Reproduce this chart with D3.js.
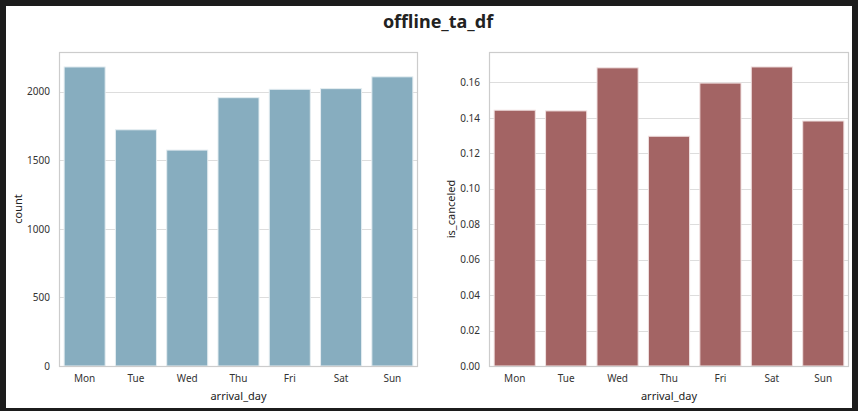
<!DOCTYPE html>
<html>
<head>
<meta charset="utf-8">
<script src="https://cdn.jsdelivr.net/npm/d3@7"></script>
<style>
  body { margin: 0; background: #1c1c1c; }
  text { font-family: "Noto Sans", "Open Sans", sans-serif; }
</style>
</head>
<body>
<div id="chart"></div>
<script>
// data
var days = ["Mon", "Tue", "Wed", "Thu", "Fri", "Sat", "Sun"];
var countValues = [2180, 1722, 1574, 1956, 2017, 2022, 2108];
var canceledValues = [0.1443, 0.1439, 0.1682, 0.1296, 0.1596, 0.1687, 0.1382];
var countTicks = [0, 500, 1000, 1500, 2000];
var canceledTicks = [0, 0.02, 0.04, 0.06, 0.08, 0.10, 0.12, 0.14, 0.16];

var w = 858;
var h = 411;

var svg = d3.select("#chart")
    .append("svg")
    .attr("width", w)
    .attr("height", h);

// dark frame + white figure
svg.append("rect").attr("width", w).attr("height", h).attr("fill", "#1c1c1c");
svg.append("rect")
    .attr("x", 6).attr("y", 6)
    .attr("width", 846).attr("height", 402)
    .attr("fill", "#ffffff");

svg.append("text")
    .attr("x", 438)
    .attr("y", 28)
    .attr("text-anchor", "middle")
    .style("font-size", "18px")
    .attr("font-weight", "bold")
    .attr("fill", "#222")
    .text("offline_ta_df");

function drawPanel(left, right, values, ticks, fmt, ylabel, labelX, color, edge) {
    var top = 52, bottom = 366;

    var xScale = d3.scaleBand()
        .domain(days)
        .range([left, right])
        .paddingInner(0.2)
        .paddingOuter(0.1);

    var yScale = d3.scaleLinear()
        .domain([0, d3.max(values) * 1.05])
        .range([bottom, top]);

    var g = svg.append("g");

    // horizontal grid
    g.selectAll(".grid")
        .data(ticks)
        .enter().append("line")
        .attr("x1", left)
        .attr("x2", right)
        .attr("y1", function(d) { return Math.round(yScale(d)) + 0.5; })
        .attr("y2", function(d) { return Math.round(yScale(d)) + 0.5; })
        .attr("stroke", "#dddddd")
        .attr("stroke-width", 1);

    g.selectAll("rect.bar")
        .data(values)
        .enter().append("rect")
        .attr("class", "bar")
        .attr("x", function(d, i) { return xScale(days[i]); })
        .attr("width", xScale.bandwidth())
        .attr("y", function(d) { return yScale(d); })
        .attr("height", function(d) { return yScale(0) - yScale(d); })
        .attr("fill", color)
        .attr("stroke", edge)
        .attr("stroke-width", 1);

    // spines
    g.append("rect")
        .attr("x", left + 0.5)
        .attr("y", top + 0.5)
        .attr("width", right - left - 1)
        .attr("height", bottom - top)
        .attr("fill", "none")
        .attr("stroke", "#cccccc")
        .attr("stroke-width", 1.2);

    var yAxis = d3.axisLeft(yScale)
        .tickValues(ticks)
        .tickFormat(fmt)
        .tickSize(0)
        .tickPadding(9);

    g.append("g")
        .attr("transform", "translate(" + left + ",0)")
        .call(yAxis)
        .call(function(a) {
            a.select(".domain").remove();
            a.selectAll("text")
                .attr("fill", "#333")
                .style("font-size", "10px")
                .style("font-family", "'Noto Sans', sans-serif");
        });

    var xAxis = d3.axisBottom(xScale)
        .tickSize(0)
        .tickPadding(9);

    g.append("g")
        .attr("transform", "translate(0," + bottom + ")")
        .call(xAxis)
        .call(function(a) {
            a.select(".domain").remove();
            a.selectAll("text")
                .attr("fill", "#333")
                .style("font-size", "10px")
                .style("font-family", "'Noto Sans', sans-serif");
        });

    g.append("text")
        .attr("x", (left + right) / 2)
        .attr("y", 400)
        .attr("text-anchor", "middle")
        .style("font-size", "11px")
        .attr("fill", "#222")
        .text("arrival_day");

    g.append("text")
        .attr("transform", "rotate(-90)")
        .attr("x", -(top + bottom) / 2)
        .attr("y", labelX)
        .attr("text-anchor", "middle")
        .style("font-size", "11px")
        .attr("fill", "#222")
        .text(ylabel);
}

drawPanel(59, 418, countValues, countTicks, d3.format("d"), "count", 22, "#87adbf", "#e4edf1");
drawPanel(489, 849, canceledValues, canceledTicks, d3.format(".2f"), "is_canceled", 455, "#a36464", "#f0e0e0");
</script>
</body>
</html>
